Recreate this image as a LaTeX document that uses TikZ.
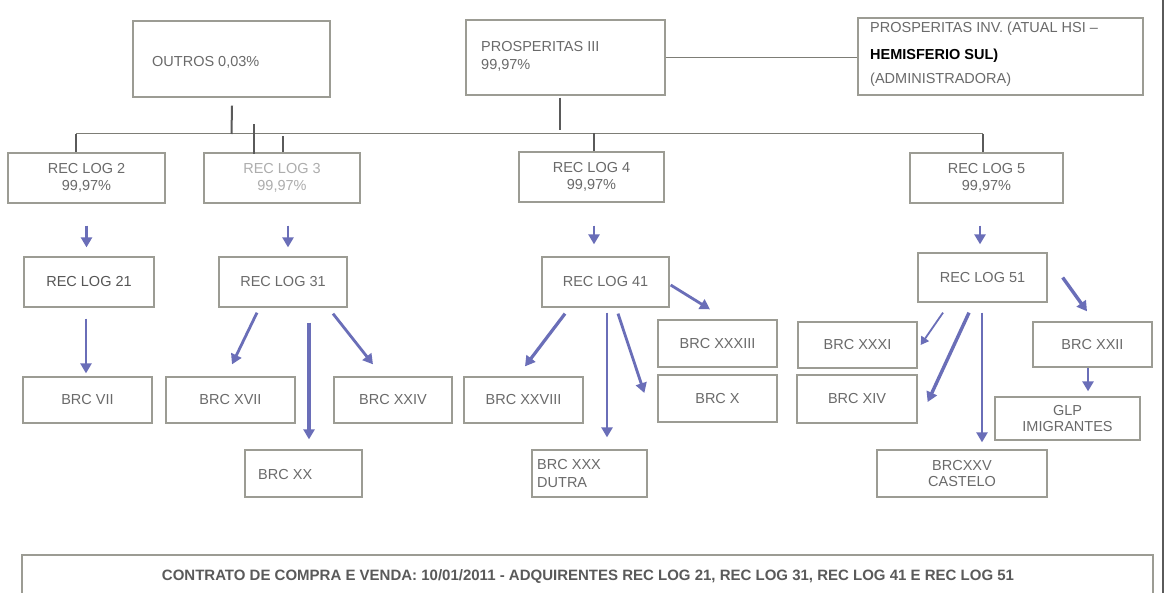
\documentclass[tikz,border=0pt]{standalone}
\usepackage{fontspec}
\setmainfont{Liberation Sans}
\usetikzlibrary{arrows.meta,calc}
\definecolor{boxgray}{HTML}{9C9C94}
\definecolor{linegray}{HTML}{5A5A5A}
\definecolor{txtgray}{HTML}{6A6A6A}
\definecolor{arrblue}{HTML}{6A6EB8}
\tikzset{
  box/.style={draw=boxgray, line width=1.3pt, rectangle, inner sep=0pt, align=center,
    text=txtgray, font=\fontsize{14.5}{17}\selectfont},
  lbl/.style={inner sep=0pt, text=txtgray, font=\fontsize{14.5}{17}\selectfont, align=left},
  conn/.style={draw=linegray, line width=2pt},
  thinconn/.style={draw=boxgray!80!black, line width=1pt},
  arr/.style={draw=arrblue, line width=2.8pt, -{Triangle[length=10pt,width=11pt]}},
  arrthin/.style={draw=arrblue, line width=1.8pt, -{Triangle[length=8pt,width=9pt]}}
}
\begin{document}
\begin{tikzpicture}[x=1pt,y=-1pt]
\useasboundingbox (0,0) rectangle (1169,593);
\clip (0,0) rectangle (1169,593);
\fill[white] (0,0) rectangle (1169,593);

% top row
\node[box, minimum width=197, minimum height=76] (outros) at (231.5,59) {};
\node[lbl, anchor=west] (toutros) at (152,62) {OUTROS 0,03\%};
\node[box, minimum width=199, minimum height=75] (pros3) at (565.5,57.5) {};
\node[lbl, anchor=north west, font=\fontsize{14.5}{18}\selectfont] (tpros3) at (481,41) {PROSPERITAS III\\99,97\%};
\node[box, minimum width=285, minimum height=77] (prosinv) at (1000.5,56.5) {};
\node[lbl, anchor=west] (tpi1) at (870,29) {PROSPERITAS INV. (ATUAL HSI --};
\node[lbl, anchor=west, text=black, font=\fontsize{14.5}{17}\bfseries\selectfont] (tpi2) at (870,56) {HEMISFERIO SUL)};
\node[lbl, anchor=west] (tpi3) at (870,80) {(ADMINISTRADORA)};

% second row
\node[box, minimum width=157, minimum height=50] (rl2) at (86.5,178) {REC LOG 2\\99,97\%};
\node[box, minimum width=156, minimum height=50, text=txtgray!55] (rl3) at (282,178) {REC LOG 3\\99,97\%};
\node[box, minimum width=145, minimum height=50] (rl4) at (591.5,177) {REC LOG 4\\99,97\%};
\node[box, minimum width=153, minimum height=50] (rl5) at (986.5,178) {REC LOG 5\\99,97\%};

% third row
\node[box, minimum width=130, minimum height=50, text=txtgray!80!black] (rl21) at (89,282) {REC LOG 21};
\node[box, minimum width=128, minimum height=50] (rl31) at (283,282) {REC LOG 31};
\node[box, minimum width=127, minimum height=50] (rl41) at (605.5,282) {REC LOG 41};
\node[box, minimum width=129, minimum height=49] (rl51) at (982.5,277.5) {REC LOG 51};

% leaves
\node[box, minimum width=129, minimum height=46] (brc7) at (87.5,400) {BRC VII};
\node[box, minimum width=129, minimum height=46] (brc17) at (230.5,400) {BRC XVII};
\node[box, minimum width=118, minimum height=46] (brc24) at (393,400) {BRC XXIV};
\node[box, minimum width=117, minimum height=47] (brc20) at (303.5,473.5) {};
\node[lbl, anchor=west] (tbrc20) at (258,475) {BRC XX};
\node[box, minimum width=119, minimum height=46] (brc28) at (523.5,400) {BRC XXVIII};
\node[box, minimum width=115, minimum height=47] (brc30) at (589.5,473.5) {};
\node[lbl, anchor=west, font=\fontsize{14.5}{18}\selectfont] (tbrc30) at (537,474) {BRC XXX\\DUTRA};
\node[box, minimum width=119, minimum height=47] (brc33) at (717.5,343.5) {BRC XXXIII};
\node[box, minimum width=119, minimum height=47] (brc10) at (717.5,398.5) {BRC X};
\node[box, minimum width=119, minimum height=46] (brc31) at (857.5,345) {BRC XXXI};
\node[box, minimum width=120, minimum height=48] (brc14) at (857,399) {BRC XIV};
\node[box, minimum width=119, minimum height=45] (brc22) at (1092.5,344.5) {BRC XXII};
\node[box, minimum width=145, minimum height=43, font=\fontsize{14.5}{16}\selectfont] (glp) at (1067.5,418.5) {GLP\\IMIGRANTES};
\node[box, minimum width=170, minimum height=47, font=\fontsize{14.5}{16}\selectfont] (brc25) at (962,473.5) {BRCXXV\\CASTELO};

% bottom
\node[box, minimum width=1131, minimum height=60] (bottom) at (587.5,585) {};
\node[lbl, text=linegray, font=\fontsize{15}{17}\bfseries\selectfont] (tbottom) at (588,577) {CONTRATO DE COMPRA E VENDA: 10/01/2011 - ADQUIRENTES REC LOG 21, REC LOG 31, REC LOG 41 E REC LOG 51};

% right border
\coordinate (rbT) at (1163,0);
\coordinate (rbB) at (1163,593);
\draw[draw=linegray, line width=2.5pt] (rbT) -- (rbB);

% bus
\coordinate (busL) at (76,134);
\coordinate (busR) at (983,134);
\draw[thinconn] (busL) -- (busR);
\draw[conn] ($(outros.south)+(0.5,8)$) -- (outros.south |- busL);
\draw[conn] ($(pros3.south)+(-5.5,2)$) -- ($(pros3.south |- busL)+(-5.5,-4)$);
\draw[conn] (busL) -- (busL |- rl2.north);
\draw[conn] ($(rl3.north)+(-28,-28)$) -- ($(rl3.north)+(-28,2)$);
\draw[conn] ($(rl3.north)+(1,-16)$) -- (rl3.north -| 283,0);
\draw[conn] (rl4.north -| 594,0) -- ($(rl4.north -| 594,0)+(0,-18)$);
\draw[conn] (busR) -- (busR |- rl5.north);
\draw[thinconn] (pros3.east) -- (pros3.east -| prosinv.west);

% arrows
\draw[arr] ($(rl2.south)+(0,22)$) -- ($(rl21.north)+(-2.5,-9)$);
\draw[arr] ($(rl21.south)+(-3,11)$) -- ($(brc7.north)+(-1.5,-3)$);
\draw[arr] ($(rl3.south)+(6,22)$) -- ($(rl31.north)+(5,-9)$);
\draw[arr] ($(rl31.south)+(-26,5)$) -- ($(brc17.north)+(1.5,-12)$);
\draw[arr, line width=3.2pt] ($(rl31.south)+(26,15)$) -- ($(brc20.north)+(5.5,-10)$);
\draw[arr] ($(rl31.south)+(50,6)$) -- ($(brc24.north)+(-20,-12)$);
\draw[arr] ($(rl4.south)+(2.5,23)$) -- ($(rl41.north)+(-11.5,-12)$);
\draw[arr] ($(rl41.east)+(1,3)$) -- ($(brc33.north)+(-7.5,-10)$);
\draw[arr] ($(rl41.south)+(12.5,6)$) -- ($(brc10.west)+(-13,-5.5)$);
\draw[arr] ($(rl41.south)+(1.5,5)$) -- ($(brc30.north)+(17.5,-12)$);
\draw[arr, line width=3.2pt] ($(rl41.south)+(-40.5,6)$) -- ($(brc28.north)+(1.5,-10)$);
\draw[arr] ($(rl5.south)+(-6.5,22)$) -- ($(rl51.north)+(-2.5,-8)$);
\draw[arr, line width=3.4pt] ($(rl51.east)+(15,0)$) -- ($(brc22.north)+(-5.5,-10)$);
\draw[arr] ($(brc22.south)+(-4.5,0)$) -- ($(glp.north)+(20.5,-5)$);
\draw[arrthin] ($(rl51.south)+(-39.5,10)$) -- ($(brc31.east)+(3,0)$);
\draw[arr, line width=3.4pt] ($(rl51.south)+(-13.5,10)$) -- ($(brc14.east)+(10,3)$);
\draw[arr, line width=2.4pt] ($(rl51.south)+(-0.5,10)$) -- ($(brc25.north)+(20,-7)$);
\end{tikzpicture}
\end{document}
